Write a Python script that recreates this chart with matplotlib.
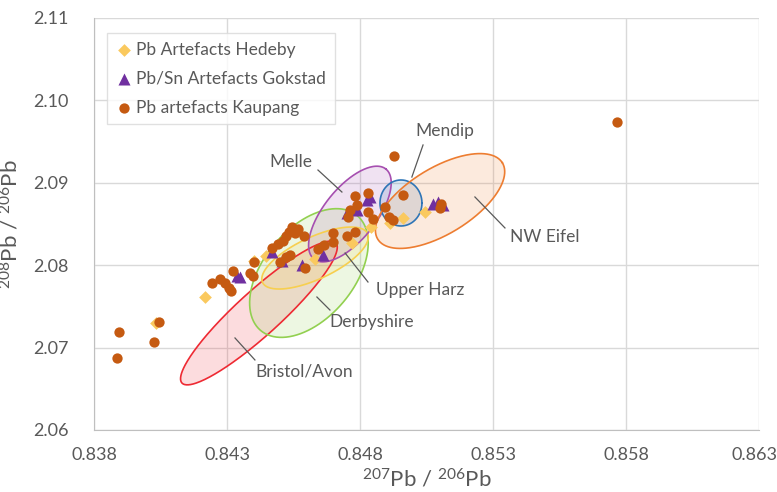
import numpy as np
import matplotlib
matplotlib.use("Agg")
import matplotlib.pyplot as plt
import matplotlib.transforms as mtransforms

plt.rcParams['font.family'] = ['Lato', 'DejaVu Sans']
plt.rcParams['mathtext.default'] = 'regular'

# --- data ---
kaupang_x = [0.83894, 0.83886, 0.84026, 0.84044, 0.84244, 0.84274, 0.84292, 0.84307,
             0.84315, 0.84323, 0.84386, 0.84398, 0.84401, 0.84469, 0.84492, 0.84510,
             0.84522, 0.84533, 0.84544, 0.84567, 0.84589, 0.84556, 0.84499, 0.84522,
             0.84537, 0.84593, 0.84642, 0.84665, 0.84698, 0.84698, 0.84751, 0.84781,
             0.84755, 0.84781, 0.84830, 0.84762, 0.84789, 0.84830, 0.84849, 0.84928,
             0.84962, 0.84894, 0.84909, 0.84924, 0.85101, 0.85104, 0.85766]
kaupang_y = [2.0719, 2.0687, 2.0707, 2.0731, 2.0778, 2.0783, 2.0778, 2.0772,
             2.0769, 2.0793, 2.0791, 2.0787, 2.0804, 2.0821, 2.0826, 2.0829,
             2.0835, 2.0840, 2.0846, 2.0844, 2.0835, 2.0839, 2.0804, 2.0810,
             2.0812, 2.0797, 2.0820, 2.0825, 2.0839, 2.0828, 2.0835, 2.0840,
             2.0858, 2.0884, 2.0888, 2.0867, 2.0873, 2.0865, 2.0856, 2.0933,
             2.0885, 2.0871, 2.0858, 2.0855, 2.0869, 2.0874, 2.0974]

hedeby_x = [0.84033, 0.84217, 0.84401, 0.84447, 0.84631, 0.84770, 0.84841, 0.84913,
            0.84962, 0.85044]
hedeby_y = [2.0730, 2.0761, 2.0805, 2.0811, 2.0808, 2.0827, 2.0846, 2.0851,
            2.0857, 2.0865]

gokstad_x = [0.84338, 0.84349, 0.84469, 0.84507, 0.84582, 0.84661, 0.84751, 0.84789,
             0.84826, 0.84838, 0.85074, 0.85093, 0.85112]
gokstad_y = [2.0787, 2.0786, 2.0816, 2.0805, 2.0800, 2.0812, 2.0863, 2.0867,
             2.0879, 2.0883, 2.0874, 2.0877, 2.0873]

# ore field regions: centre, semi-axis vector a, conjugate semi-axis vector b (data units)
region_names = ['Bristol/Avon', 'Derbyshire', 'Upper Harz', 'Melle', 'Mendip', 'NW Eifel']
region_centers = [(0.84420, 2.07420), (0.84608, 2.07905), (0.84631, 2.08087),
                  (0.84762, 2.08621), (0.84954, 2.08755), (0.85101, 2.08779)]
region_axis_a = [(0.002894, 0.008495), (0.001813, 0.006978), (0.001974, 0.002973),
                 (0.001353, 0.005461), (0.000789, 0.0), (0.002342, 0.004636)]
region_axis_b = [(0.000553, -0.001978), (0.001297, -0.003507), (0.000335, -0.002306),
                 (0.000763, -0.001972), (0.0, 0.002791), (0.000650, -0.003410)]
region_colors = ['#EE2A33', '#92D050', '#F7CF4F', '#A64FB0', '#2E75B6', '#ED7D31']

# label text anchor (left/centre) and leader line ends
label_pos = [(0.84405, 2.06704), (0.84683, 2.07311), (0.84860, 2.07699),
             (0.84541, 2.09252), (0.85119, 2.09629), (0.85364, 2.08342)]
label_ha = ['left', 'left', 'left', 'center', 'center', 'left']
leader_start = [(0.84330, 2.07117), (0.84638, 2.07614), (0.84744, 2.08148),
                (0.84642, 2.09155), (0.85037, 2.09459), (0.85232, 2.08828)]
leader_end = [(0.84405, 2.06850), (0.84687, 2.07456), (0.84830, 2.07796),
              (0.84732, 2.08888), (0.84995, 2.09070), (0.85345, 2.08452)]

x_ticks = [0.838, 0.843, 0.848, 0.853, 0.858, 0.863]
y_ticks = [2.06, 2.07, 2.08, 2.09, 2.10, 2.11]

grey = '#595959'

fig = plt.figure(figsize=(7.77, 4.92), dpi=100)
ax = fig.add_axes([94 / 777, 1 - 430 / 492, 665 / 777, 412 / 492])

t = np.linspace(0, 2 * np.pi, 300)
for c, a, b, col in zip(region_centers, region_axis_a, region_axis_b, region_colors):
    ex = c[0] + a[0] * np.cos(t) + b[0] * np.sin(t)
    ey = c[1] + a[1] * np.cos(t) + b[1] * np.sin(t)
    ax.fill(ex, ey, color=col, alpha=0.16, lw=0, zorder=1)
    ax.plot(ex, ey, color=col, lw=1.2, zorder=2)

for name, pos, ha, s, e in zip(region_names, label_pos, label_ha, leader_start, leader_end):
    ax.plot([s[0], e[0]], [s[1], e[1]], color=grey, lw=0.9, zorder=2)
    ax.text(pos[0], pos[1], name, ha=ha, va='center', fontsize=12.5, color=grey, zorder=3)

ax.scatter(hedeby_x, hedeby_y, marker='D', s=42, color='#FAC95E', lw=0,
           label='Pb Artefacts Hedeby', zorder=4)
ax.scatter(gokstad_x, gokstad_y, marker='^', s=75, color='#7030A0', lw=0,
           label='Pb/Sn Artefacts Gokstad', zorder=5)
ax.scatter(kaupang_x, kaupang_y, marker='o', s=55, color='#C55A11', lw=0,
           label='Pb artefacts Kaupang', zorder=6)

ax.set_xlim(0.838, 0.863)
ax.set_ylim(2.06, 2.11)
ax.set_xticks(x_ticks)
ax.set_yticks(y_ticks)
ax.set_xticklabels([f'{v:.3f}' for v in x_ticks])
ax.set_yticklabels([f'{v:.2f}' for v in y_ticks])
ax.tick_params(length=0, labelsize=13, colors=grey)
ax.tick_params(axis='y', pad=18)
ax.tick_params(axis='x', pad=12)
ax.grid(True, color='#D9D9D9', lw=1)
ax.set_axisbelow(True)
for side in ['top', 'right']:
    ax.spines[side].set_visible(False)
for side in ['left', 'bottom']:
    ax.spines[side].set_color('#BFBFBF')

# keep the last x tick label inside the figure edge
last = ax.get_xticklabels()[-1]
last.set_transform(last.get_transform() +
                   mtransforms.ScaledTranslation(-5 / 100, 0, fig.dpi_scale_trans))

ax.set_xlabel('$^{207}$Pb / $^{206}$Pb', fontsize=16, color=grey, labelpad=4)
ax.set_ylabel('$^{208}$Pb / $^{206}$Pb', fontsize=16, color=grey, labelpad=8)

leg = ax.legend(loc='upper left', bbox_to_anchor=(0.0195, 0.964), borderaxespad=0,
                fontsize=12.5, frameon=True, fancybox=False, handletextpad=0.2,
                handlelength=1.0, labelspacing=0.75, borderpad=0.5)
leg.get_frame().set_edgecolor('#D9D9D9')
leg.get_frame().set_linewidth(1)
for txt in leg.get_texts():
    txt.set_color(grey)

fig.savefig('out.png', dpi=100)
